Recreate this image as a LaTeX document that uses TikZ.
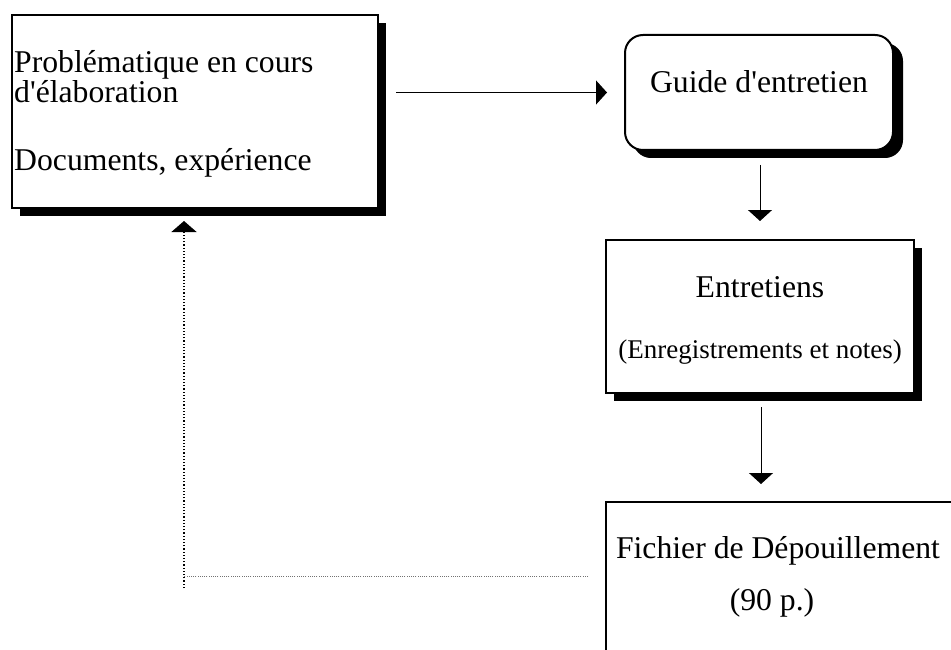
\documentclass[tikz,border=0pt]{standalone}
\usepackage{fontspec}
\setmainfont{Liberation Serif}[Ligatures=TeXOff]
\usetikzlibrary{arrows.meta,shadows}
\begin{document}
\begin{tikzpicture}[x=1pt,y=-1pt,
  box/.style={draw=black,line width=2pt,fill=white,inner sep=0pt,outer sep=0pt,
    drop shadow={shadow xshift=8pt,shadow yshift=-8pt,fill=black,opacity=1}},
  big/.style={inner sep=0pt,font=\fontsize{31.7}{38}\selectfont},
  small/.style={inner sep=0pt,font=\fontsize{27}{32}\selectfont},
  arr/.style={line width=1pt,-{Stealth[inset=0pt,length=11pt,width=24pt]}},
  dotv/.style={line width=1.3pt,dash pattern=on 1.3pt off 1.9pt,-{Stealth[inset=0pt,length=11pt,width=25pt]}},
  doth/.style={line width=0.9pt,draw=black!55,dash pattern=on 1pt off 1.2pt}]
\clip (0,0) rectangle (951,650);
\fill[white] (0,0) rectangle (951,650);
% boxes
\node[box,minimum width=366pt,minimum height=193pt] (b1) at (195,111.5) {};
\node[box,rounded corners=18pt,minimum width=268pt,minimum height=115pt,
  drop shadow={shadow xshift=10pt,shadow yshift=-8pt,fill=black,opacity=1}] (b2) at (759,92.5) {};
\node[box,minimum width=308pt,minimum height=153pt] (b3) at (760,316.5) {};
\node[box,minimum width=380pt,minimum height=200pt] (b4) at (796,602) {};
% texts
\node[big,anchor=base west] (t1a) at (14,73) {Problématique en cours};
\node[big,anchor=base west] (t1b) at (14,103) {d'élaboration};
\node[big,anchor=base west] (t1c) at (14,171) {Documents, expérience};
\node[big,anchor=base] (t2) at (759,93) {Guide d'entretien};
\node[big,anchor=base] (t3a) at (760,297) {Entretiens};
\node[small,anchor=base] (t3b) at (760,358) {(Enregistrements et notes)};
\node[big,anchor=base] (t4a) at (778,558) {Fichier de Dépouillement};
\node[big,anchor=base] (t4b) at (772,610) {(90 p.)};
% connectors
\draw[arr,shorten <=18pt,shorten >=18pt] (b2.west -| b1.east) -- (b2.west);
\draw[arr,shorten <=15pt,shorten >=19pt] ([xshift=1pt]b2.south) -- ([xshift=1pt]b2.south |- b3.north);
\draw[arr,shorten <=14pt,shorten >=18pt] ([xshift=1pt]b3.south) -- ([xshift=1pt]b3.south |- b4.north);
% feedback
\coordinate (f1) at (588,576);
\coordinate (f2) at (184,576);
\coordinate (f3) at (184,588);
\draw[doth] (f1) -- (f2);
\draw[dotv,shorten >=13pt] (f3) -- (f3 |- b1.south);
\end{tikzpicture}
\end{document}
